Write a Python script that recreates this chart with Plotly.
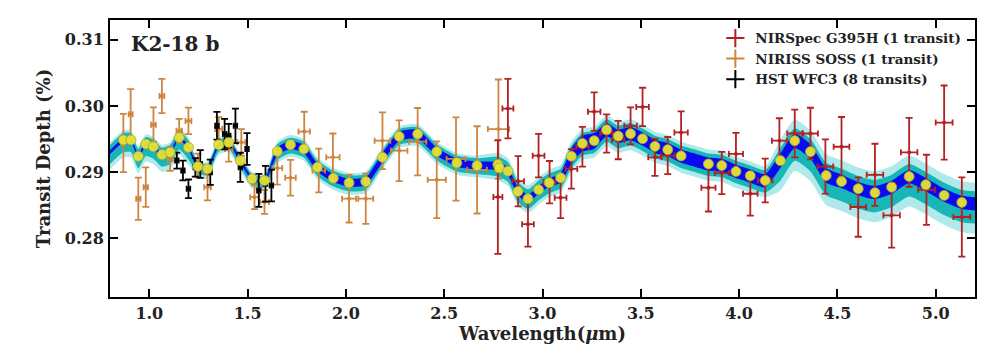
import plotly.graph_objects as go

# ---------------- model band ----------------
model_wl = [0.80, 0.868, 0.907, 0.944, 0.982, 1.021, 1.064, 1.106, 1.152, 1.199,
            1.247, 1.296, 1.353, 1.404, 1.463, 1.523, 1.586, 1.651, 1.718, 1.786,
            1.855, 1.936, 2.016, 2.101, 2.186, 2.271, 2.365, 2.462, 2.564, 2.667,
            2.776, 2.824, 2.875, 2.926, 2.980, 3.034, 3.092, 3.147, 3.203, 3.263,
            3.326, 3.385, 3.448, 3.509, 3.572, 3.637, 3.705, 3.775, 3.844, 3.912,
            3.984, 4.057, 4.133, 4.210, 4.283, 4.363, 4.443, 4.521, 4.606, 4.691,
            4.776, 4.865, 4.950, 5.043, 5.133, 5.20]
model_mid = [0.2930, 0.2948, 0.2948, 0.2924, 0.2942, 0.2938, 0.2926, 0.2930, 0.2952, 0.2937,
             0.2908, 0.2905, 0.2941, 0.2945, 0.2917, 0.2890, 0.2887, 0.2931, 0.2941, 0.2935,
             0.2907, 0.2891, 0.2884, 0.2886, 0.2922, 0.2954, 0.2957, 0.2931, 0.2914, 0.2910,
             0.2909, 0.2901, 0.2871, 0.2860, 0.2873, 0.2884, 0.2891, 0.2924, 0.2943, 0.2947,
             0.2964, 0.2954, 0.2958, 0.2950, 0.2939, 0.2934, 0.2924, 0.2918, 0.2912, 0.2910,
             0.2901, 0.2894, 0.2887, 0.2917, 0.2947, 0.2931, 0.2895, 0.2886, 0.2875, 0.2869,
             0.2877, 0.2893, 0.2881, 0.2865, 0.2854, 0.2852]
blue_hw = [0.0003, 0.0003, 0.0003, 0.0003, 0.0003, 0.0003, 0.0003, 0.0003, 0.0003, 0.0003,
           0.0003, 0.0003, 0.0003, 0.0003, 0.0003, 0.0003, 0.0003, 0.0006, 0.0006, 0.0006,
           0.0006, 0.0006, 0.0006, 0.0006, 0.0007, 0.0007, 0.0007, 0.0006, 0.0006, 0.0006,
           0.0006, 0.0006, 0.0006, 0.0006, 0.0006, 0.0006, 0.0007, 0.0012, 0.0012, 0.0012,
           0.0010, 0.0010, 0.0010, 0.0010, 0.0010, 0.0010, 0.0010, 0.0010, 0.0010, 0.0010,
           0.0010, 0.0010, 0.0010, 0.0011, 0.0011, 0.0011, 0.0011, 0.0010, 0.0010, 0.0010,
           0.0010, 0.0010, 0.0010, 0.0010, 0.0010, 0.0010]
teal_up = [0.0011, 0.0011, 0.0011, 0.0011, 0.0011, 0.0011, 0.0011, 0.0011, 0.0011, 0.0011,
           0.0007, 0.0007, 0.0007, 0.0007, 0.0007, 0.0007, 0.0007, 0.0011, 0.0011, 0.0011,
           0.0011, 0.0011, 0.0011, 0.0011, 0.0011, 0.0011, 0.0011, 0.0011, 0.0011, 0.0011,
           0.0014, 0.0014, 0.0014, 0.0014, 0.0014, 0.0014, 0.0014, 0.0016, 0.0016, 0.0016,
           0.0016, 0.0016, 0.0016, 0.0016, 0.0016, 0.0016, 0.0016, 0.0016, 0.0016, 0.0016,
           0.0016, 0.0016, 0.0016, 0.0019, 0.0019, 0.0019, 0.0019, 0.0019, 0.0019, 0.0019,
           0.0019, 0.0019, 0.0019, 0.0019, 0.0019, 0.0019]
teal_dn = [0.0018, 0.0018, 0.0018, 0.0018, 0.0018, 0.0018, 0.0018, 0.0018, 0.0018, 0.0018,
           0.0010, 0.0010, 0.0010, 0.0010, 0.0010, 0.0010, 0.0010, 0.0013, 0.0013, 0.0013,
           0.0013, 0.0013, 0.0013, 0.0013, 0.0013, 0.0013, 0.0013, 0.0013, 0.0013, 0.0013,
           0.0016, 0.0016, 0.0016, 0.0016, 0.0016, 0.0016, 0.0016, 0.0018, 0.0018, 0.0018,
           0.0018, 0.0018, 0.0018, 0.0018, 0.0018, 0.0018, 0.0018, 0.0018, 0.0018, 0.0018,
           0.0018, 0.0018, 0.0018, 0.0030, 0.0030, 0.0030, 0.0030, 0.0030, 0.0030, 0.0030,
           0.0030, 0.0030, 0.0030, 0.0030, 0.0030, 0.0030]
light_up = [0.0015, 0.0015, 0.0015, 0.0015, 0.0015, 0.0015, 0.0015, 0.0015, 0.0015, 0.0015,
            0.0010, 0.0010, 0.0010, 0.0010, 0.0010, 0.0010, 0.0010, 0.0015, 0.0015, 0.0015,
            0.0015, 0.0015, 0.0015, 0.0015, 0.0015, 0.0015, 0.0015, 0.0015, 0.0015, 0.0015,
            0.0020, 0.0020, 0.0020, 0.0020, 0.0020, 0.0020, 0.0020, 0.0022, 0.0022, 0.0022,
            0.0022, 0.0022, 0.0022, 0.0022, 0.0022, 0.0022, 0.0022, 0.0022, 0.0022, 0.0022,
            0.0022, 0.0022, 0.0022, 0.0032, 0.0032, 0.0032, 0.0032, 0.0032, 0.0032, 0.0032,
            0.0032, 0.0032, 0.0032, 0.0032, 0.0032, 0.0032]
light_dn = [0.0026, 0.0026, 0.0026, 0.0026, 0.0026, 0.0026, 0.0026, 0.0026, 0.0026, 0.0026,
            0.0015, 0.0015, 0.0015, 0.0015, 0.0015, 0.0015, 0.0015, 0.0018, 0.0018, 0.0018,
            0.0018, 0.0018, 0.0018, 0.0018, 0.0018, 0.0018, 0.0018, 0.0018, 0.0018, 0.0018,
            0.0022, 0.0022, 0.0022, 0.0022, 0.0022, 0.0022, 0.0022, 0.0025, 0.0025, 0.0025,
            0.0025, 0.0025, 0.0025, 0.0025, 0.0025, 0.0025, 0.0025, 0.0025, 0.0025, 0.0025,
            0.0025, 0.0025, 0.0025, 0.0045, 0.0045, 0.0045, 0.0045, 0.0045, 0.0045, 0.0045,
            0.0045, 0.0045, 0.0045, 0.0045, 0.0045, 0.0045]

# ---------------- binned model (yellow points) ----------------
bin_wl = [0.868, 0.907, 0.944, 0.982, 1.021, 1.064, 1.106, 1.152, 1.199, 1.247,
          1.296, 1.353, 1.404, 1.463, 1.523, 1.586, 1.651, 1.718, 1.786, 1.855,
          1.936, 2.016, 2.101, 2.186, 2.271, 2.365, 2.462, 2.564, 2.667, 2.773,
          2.780, 2.824, 2.875, 2.926, 2.980, 3.034, 3.092, 3.147, 3.203, 3.263,
          3.326, 3.385, 3.448, 3.509, 3.572, 3.637, 3.705, 3.844, 3.912, 3.984,
          4.057, 4.133, 4.210, 4.283, 4.363, 4.443, 4.521, 4.606, 4.691, 4.776,
          4.865, 4.950, 5.043, 5.133]
bin_depth = [0.29484, 0.29484, 0.29238, 0.29424, 0.29383, 0.29263, 0.29298, 0.29523, 0.29373, 0.29083,
             0.29048, 0.29414, 0.29448, 0.29173, 0.28898, 0.28872, 0.29313, 0.29414, 0.29349, 0.29072,
             0.28907, 0.28838, 0.28857, 0.29223, 0.29538, 0.29574, 0.29308, 0.29138, 0.29098, 0.29113,
             0.29063, 0.29012, 0.28707, 0.28597, 0.28732, 0.28838, 0.28913, 0.29238, 0.29433, 0.29474,
             0.29639, 0.29544, 0.29579, 0.29504, 0.29388, 0.29338, 0.29244, 0.29123, 0.29098, 0.29008,
             0.28943, 0.28872, 0.29173, 0.29474, 0.29308, 0.28947, 0.28857, 0.28747, 0.28687, 0.28772,
             0.28932, 0.28808, 0.28647, 0.28541]

# ---------------- NIRSpec G395H ----------------
nrs_wl = [2.773, 2.824, 2.876, 2.926, 2.980, 3.036, 3.092, 3.147, 3.203, 3.263,
          3.326, 3.385, 3.448, 3.509, 3.572, 3.637, 3.705, 3.844, 3.912, 3.984,
          4.057, 4.133, 4.205, 4.283, 4.363, 4.439, 4.521, 4.606, 4.691, 4.776,
          4.865, 4.953, 5.043, 5.133]
nrs_depth = [0.28621, 0.29960, 0.28862, 0.28211, 0.29248, 0.28847, 0.28612, 0.29048, 0.29383, 0.29914,
             0.29583, 0.29484, 0.29699, 0.29985, 0.29223, 0.29250, 0.29599, 0.28763, 0.28985, 0.29274,
             0.28672, 0.28872, 0.29474, 0.29583, 0.29583, 0.29083, 0.29383, 0.28471, 0.28958, 0.28346,
             0.29298, 0.28732, 0.29749, 0.28320]
nrs_err = [0.0086, 0.0045, 0.0038, 0.0034, 0.0033, 0.0032, 0.0031, 0.0030, 0.0030, 0.0029,
           0.0029, 0.0029, 0.0028, 0.0029, 0.0028, 0.0028, 0.0032, 0.0036, 0.0032, 0.0032,
           0.0033, 0.0033, 0.0034, 0.0036, 0.0039, 0.0041, 0.0045, 0.0045, 0.0047, 0.0049,
           0.0052, 0.0053, 0.0056, 0.0060]
nrs_xerr = [0.023, 0.028, 0.030, 0.030, 0.030, 0.030, 0.030, 0.030, 0.032, 0.032,
            0.032, 0.032, 0.032, 0.032, 0.034, 0.034, 0.034, 0.036, 0.036, 0.036,
            0.037, 0.037, 0.038, 0.038, 0.038, 0.040, 0.040, 0.040, 0.042, 0.042,
            0.042, 0.043, 0.043, 0.043]

# ---------------- NIRISS SOSS ----------------
nis_wl = [0.868, 0.905, 0.944, 0.982, 1.021, 1.064, 1.106, 1.152, 1.199, 1.247,
          1.296, 1.353, 1.404, 1.468, 1.535, 1.586, 1.651, 1.718, 1.788, 1.862,
          1.934, 2.016, 2.101, 2.186, 2.271, 2.365, 2.462, 2.560, 2.667, 2.776]
nis_depth = [0.29440, 0.29875, 0.28597, 0.28772, 0.29717, 0.30150, 0.29198, 0.29624, 0.29774, 0.29100,
             0.28772, 0.29650, 0.29349, 0.29450, 0.28620, 0.28546, 0.29060, 0.28913, 0.29612, 0.29023,
             0.29223, 0.28597, 0.28597, 0.29474, 0.29323, 0.29459, 0.28883, 0.29198, 0.29033, 0.29650]
nis_err = [0.0044, 0.0038, 0.0032, 0.0030, 0.0026, 0.0026, 0.0018, 0.0018, 0.0020, 0.0018,
           0.0020, 0.0018, 0.0019, 0.0020, 0.0018, 0.0018, 0.0025, 0.0027, 0.0030, 0.0033,
           0.0036, 0.0036, 0.0038, 0.0043, 0.0046, 0.0051, 0.0058, 0.0063, 0.0066, 0.0075]
nis_xerr = [0.010, 0.010, 0.011, 0.011, 0.012, 0.012, 0.013, 0.014, 0.015, 0.016,
            0.017, 0.018, 0.019, 0.020, 0.022, 0.023, 0.025, 0.027, 0.029, 0.032,
            0.034, 0.036, 0.038, 0.040, 0.042, 0.044, 0.046, 0.048, 0.050, 0.054]

# ---------------- HST WFC3 ----------------
hst_wl = [1.140, 1.171, 1.199, 1.234, 1.259, 1.310, 1.344, 1.383, 1.404, 1.438,
          1.463, 1.497, 1.557, 1.591, 1.621]
hst_depth = [0.29173, 0.29023, 0.28747, 0.29072, 0.29123, 0.28997, 0.29699, 0.29574, 0.29549, 0.29699,
             0.29072, 0.29349, 0.28722, 0.28822, 0.28797]
hst_err = [0.0012, 0.0015, 0.0014, 0.0014, 0.0021, 0.0019, 0.0021, 0.0023, 0.0018, 0.0026,
           0.0022, 0.0024, 0.0025, 0.0027, 0.0024]
hst_xerr = [0.009, 0.009, 0.009, 0.009, 0.009, 0.009, 0.009, 0.009, 0.009, 0.009,
            0.009, 0.009, 0.009, 0.009, 0.009]

legend_names = ["NIRSpec G395H (1 transit)", "NIRISS SOSS (1 transit)", "HST WFC3 (8 transits)"]
legend_colors = ["#b22222", "#cd853f", "#000000"]

FONT = "DejaVu Serif"
fig = go.Figure()


def add_band(lo, hi, color):
    fig.add_trace(go.Scatter(x=model_wl, y=lo, mode="lines",
                             line=dict(width=0, shape="spline", smoothing=0.6),
                             hoverinfo="skip", showlegend=False))
    fig.add_trace(go.Scatter(x=model_wl, y=hi, mode="lines",
                             line=dict(width=0, shape="spline", smoothing=0.6),
                             fill="tonexty", fillcolor=color,
                             hoverinfo="skip", showlegend=False))


add_band([m - d for m, d in zip(model_mid, light_dn)],
         [m + u for m, u in zip(model_mid, light_up)], "rgba(150,225,225,0.75)")
add_band([m - d for m, d in zip(model_mid, teal_dn)],
         [m + u for m, u in zip(model_mid, teal_up)], "rgb(24,182,182)")
add_band([m - w for m, w in zip(model_mid, blue_hw)],
         [m + w for m, w in zip(model_mid, blue_hw)], "rgb(10,10,240)")


def add_err(x, y, ye, xe, color):
    fig.add_trace(go.Scatter(
        x=x, y=y, mode="markers", showlegend=False,
        marker=dict(color=color, size=4),
        error_y=dict(type="data", array=ye, color=color, thickness=1.8, width=3.5),
        error_x=dict(type="data", array=xe, color=color, thickness=1.8, width=3),
    ))


add_err(nis_wl, nis_depth, nis_err, nis_xerr, legend_colors[1])
add_err(hst_wl, hst_depth, hst_err, hst_xerr, legend_colors[2])
add_err(nrs_wl, nrs_depth, nrs_err, nrs_xerr, legend_colors[0])

fig.add_trace(go.Scatter(
    x=bin_wl, y=bin_depth, mode="markers", showlegend=False,
    marker=dict(color="rgba(230,228,55,0.95)", size=10,
                line=dict(color="rgb(170,165,40)", width=0.8)),
))

# legend entries
for name, col in zip(legend_names, legend_colors):
    fig.add_trace(go.Scatter(
        x=[None], y=[None], mode="markers", name=name,
        marker=dict(symbol="cross-thin", size=13, color=col,
                    line=dict(color=col, width=2)),
    ))

fig.add_annotation(text="<b>K2-18 b</b>", xref="paper", yref="paper",
                   x=0.022, y=0.965, xanchor="left", yanchor="top",
                   showarrow=False, font=dict(family=FONT, size=20, color="#222"))

axis_common = dict(
    showline=True, linecolor="black", linewidth=2, mirror="ticks",
    ticks="inside", ticklen=8, tickwidth=2, tickcolor="black",
    showgrid=False, zeroline=False,
    tickfont=dict(family=FONT, size=16, color="#222", weight="bold"),
)

# the page body has an 8px default margin; layout compensates for it
fig.update_layout(
    width=992, height=347,
    margin=dict(l=102, r=25, t=10, b=58),
    paper_bgcolor="white", plot_bgcolor="white",
    showlegend=True,
    legend=dict(x=0.99, y=0.99, xanchor="right", yanchor="top",
                traceorder="normal",
                bgcolor="rgba(0,0,0,0)", borderwidth=0,
                font=dict(family=FONT, size=13.5, color="#222", weight="bold"),
                itemwidth=30, tracegroupgap=0),
    xaxis=dict(range=[0.8, 5.2], tickvals=[1.0, 1.5, 2.0, 2.5, 3.0, 3.5, 4.0, 4.5, 5.0],
               ticktext=["1.0", "1.5", "2.0", "2.5", "3.0", "3.5", "4.0", "4.5", "5.0"],
               title=dict(text="<b>Wavelength(<i>μ</i>m)</b>", standoff=2,
                          font=dict(family=FONT, size=18, color="#222")),
               ticklabelstandoff=1,
               **axis_common),
    yaxis=dict(range=[0.2711, 0.3130], tickvals=[0.28, 0.29, 0.30, 0.31],
               ticktext=["0.28", "0.29", "0.30", "0.31"],
               title=dict(text="<b>Transit Depth (%)</b>", standoff=10,
                          font=dict(family=FONT, size=18, color="#222")),
               ticklabelstandoff=1,
               **axis_common),
)

fig.write_html("out.html")
